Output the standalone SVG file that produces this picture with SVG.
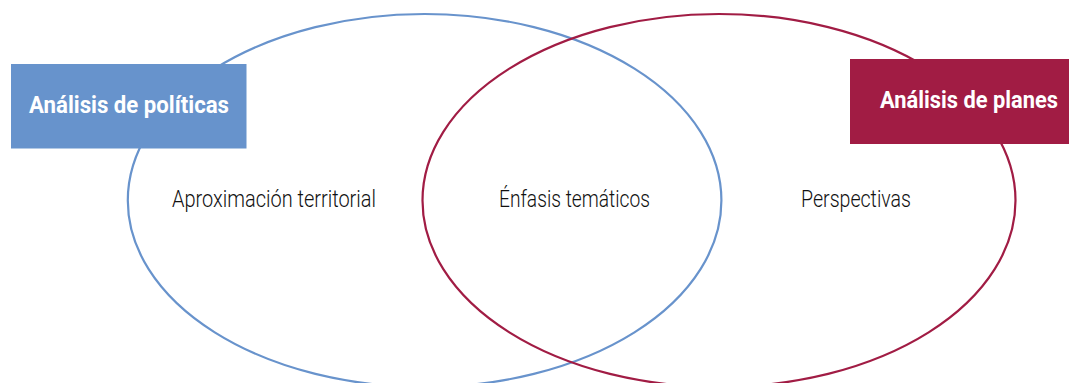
<svg xmlns="http://www.w3.org/2000/svg" width="1069" height="383" viewBox="0 0 1069 383">
<style>
.ring{fill:none;stroke-width:2.2}
.blue{stroke:#6893CC}
.red{stroke:#A11C44}
.lbl{font-family:Roboto,"Liberation Sans",sans-serif;font-weight:300;font-size:23px;fill:#111111}
.ttl{font-family:Roboto,"Liberation Sans",sans-serif;font-weight:700;font-size:24px;fill:#ffffff}
</style>
<rect width="1069" height="383" fill="#ffffff"/>
<g id="connectors"></g>
<g id="set-politicas">
<ellipse class="ring blue" cx="424.6" cy="200.5" rx="296.8" ry="186.5"/>
</g>
<g id="set-planes">
<ellipse class="ring red" cx="719" cy="200.5" rx="296.5" ry="186.5"/>
</g>
<g id="title-politicas">
<rect x="11" y="64" width="235.5" height="84.5" fill="#6793CC"/>
<text class="ttl" x="29" y="113.3" textLength="200" lengthAdjust="spacingAndGlyphs">Análisis de políticas</text>
</g>
<g id="title-planes">
<rect x="850" y="59" width="219" height="85" fill="#A11C44"/>
<text class="ttl" transform="translate(880,108.3) scale(0.85,1)" x="0" y="0" textLength="209.4" lengthAdjust="spacingAndGlyphs">Análisis de planes</text>
</g>
<g id="label-territorial">
<text class="lbl" x="172" y="206.7" textLength="204" lengthAdjust="spacingAndGlyphs">Aproximación territorial</text>
</g>
<g id="label-enfasis">
<text class="lbl" x="499" y="206.7" textLength="151" lengthAdjust="spacingAndGlyphs">Énfasis temáticos</text>
</g>
<g id="label-perspectivas">
<text class="lbl" x="801" y="206.7" textLength="110" lengthAdjust="spacingAndGlyphs">Perspectivas</text>
</g>
</svg>
